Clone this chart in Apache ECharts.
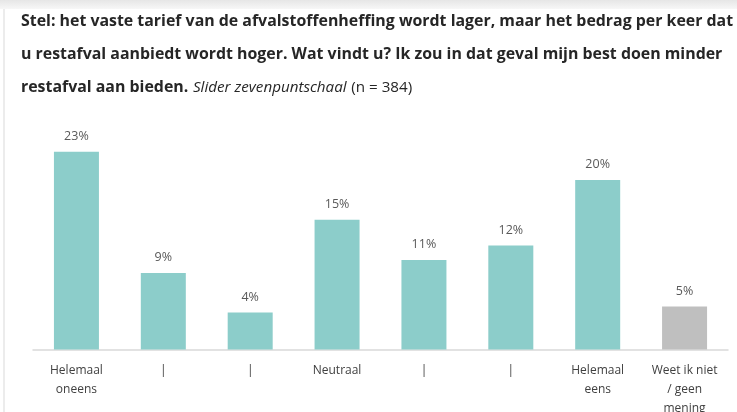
<!doctype html>
<html>
<head>
<meta charset="UTF-8">
<script src="https://cdn.jsdelivr.net/npm/echarts@6/dist/echarts.min.js"></script>
<style>
  html, body { margin: 0; padding: 0; background: #fff; }
  #chart { width: 737px; height: 412px; }
</style>
</head>
<body>
<div id="chart"></div>
<script type="text/javascript">
    var categories = ['Helemaal\noneens', '|', '|', 'Neutraal', '|', '|', 'Helemaal\neens', 'Weet ik niet\n/ geen\nmening'];
    var values = [23, 8.9, 4.3, 15.1, 10.4, 12.1, 19.7, 5.0];
    var valueLabels = ['23%', '9%', '4%', '15%', '11%', '12%', '20%', '5%'];
    var barColors = ['#8ccdca', '#8ccdca', '#8ccdca', '#8ccdca', '#8ccdca', '#8ccdca', '#8ccdca', '#bfbfbf'];

    var myChart = echarts.init(document.getElementById('chart'));

    var option = {
        backgroundColor: '#fff',
        textStyle: { fontFamily: 'Open Sans' },
        title: {
            left: 16,
            top: 0,
            text: '{b|Stel: het vaste tarief van de afvalstoffenheffing wordt lager, maar het bedrag per keer dat}\n' +
                  '{b|u restafval aanbiedt wordt hoger. Wat vindt u? Ik zou in dat geval mijn best doen minder}\n' +
                  '{b|restafval aan bieden.} {i|Slider zevenpuntschaal} {n|(n = 384)}',
            textStyle: {
                rich: {
                    b: { fontFamily: 'Open Sans', fontWeight: 'bold', fontSize: 15.9, color: '#262626', lineHeight: 33 },
                    i: { fontFamily: 'Open Sans', fontWeight: 'normal', fontStyle: 'italic', fontSize: 15.2, color: '#262626', lineHeight: 33 },
                    n: { fontFamily: 'Open Sans', fontWeight: 'normal', fontSize: 15.2, color: '#262626', lineHeight: 33 }
                }
            }
        },
        graphic: [
            { type: 'rect', shape: { x: 0, y: 0, width: 737, height: 9 },
              style: { fill: new echarts.graphic.LinearGradient(0, 0, 0, 1, [
                  { offset: 0, color: '#e6e6e6' }, { offset: 1, color: '#f7f7f7' }]) } },
            { type: 'rect', shape: { x: 3, y: 9, width: 2, height: 403 }, style: { fill: '#ececec' } }
        ],
        grid: { left: 33, right: 9, top: 134.5, bottom: 62.5, outerBoundsMode: 'none', containLabel: false },
        xAxis: {
            type: 'category',
            data: categories,
            axisLine: { lineStyle: { color: '#d9d9d9', width: 1.5 } },
            axisTick: { show: false },
            axisLabel: { color: '#404040', fontSize: 12, lineHeight: 19, margin: 12, interval: 0 }
        },
        yAxis: {
            type: 'value',
            min: 0,
            max: 25,
            show: false,
            splitLine: { show: false }
        },
        series: [{
            type: 'bar',
            barWidth: 45,
            data: values.map(function (v, i) {
                return { value: v, itemStyle: { color: barColors[i] } };
            }),
            label: {
                show: true,
                position: 'top',
                distance: 9,
                color: '#595959',
                fontSize: 12.5,
                formatter: function (p) { return valueLabels[p.dataIndex]; }
            },
            animation: false
        }]
    };

    myChart.setOption(option);
</script>
</body>
</html>
